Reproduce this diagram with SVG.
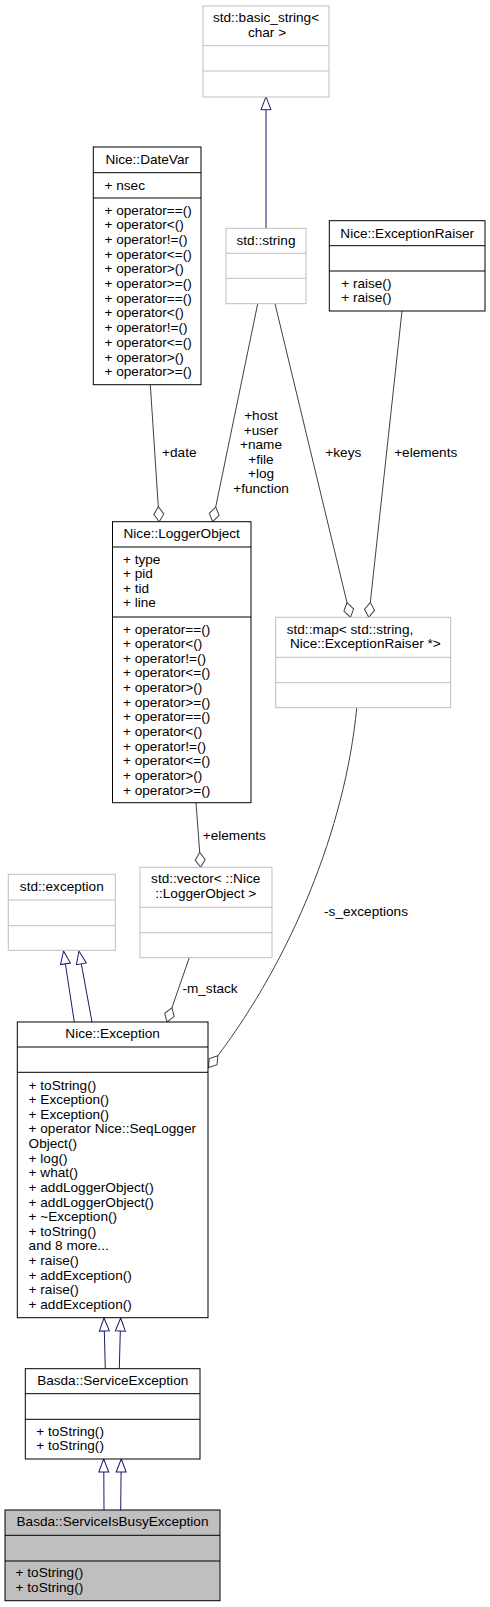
<svg xmlns="http://www.w3.org/2000/svg" xmlns:xlink="http://www.w3.org/1999/xlink" width="490" height="1607" viewBox="0 0 490 1607">
<style>
.t{font-family:"Liberation Sans",Arial,Helvetica,sans-serif;font-size:13.6px;fill:#000}
.m{text-anchor:middle}
.bx{fill:#fff;stroke:#000;stroke-width:1}
.gb{fill:#fff;stroke:#bfbfbf;stroke-width:1}
.sk{stroke:#000;stroke-width:1}
.gs{stroke:#bfbfbf;stroke-width:1}
.agg{fill:none;stroke:#404040;stroke-width:1}
.inh{fill:none;stroke:#191970;stroke-width:1}
</style>
<defs>
<polygon id="dia" points="0,0 -5,-7.5 0,-15 5,-7.5" fill="#fff" stroke="#404040" stroke-width="1"/>
<polygon id="tri" points="0,0 -5,13 5,13" fill="#fff" stroke="#191970" stroke-width="1"/>
</defs>
<rect width="490" height="1607" fill="#fff"/>

<g id="connectors">
<line class="inh" x1="266" y1="228.3" x2="266" y2="109.7"/>
<use xlink:href="#tri" transform="translate(266,96.7)"/>
<line class="agg" x1="150.3" y1="384.7" x2="158.3" y2="506.7"/>
<use xlink:href="#dia" transform="translate(159.3,521.7) rotate(-3.76)"/>
<line class="agg" x1="257.7" y1="303.7" x2="215.7" y2="507"/>
<use xlink:href="#dia" transform="translate(212.7,521.7) rotate(11.67)"/>
<line class="agg" x1="275" y1="303.7" x2="347" y2="602.7"/>
<use xlink:href="#dia" transform="translate(350.5,617.3) rotate(-13.45)"/>
<line class="agg" x1="402" y1="311" x2="370.3" y2="602.4"/>
<use xlink:href="#dia" transform="translate(368.7,617.3) rotate(6.2)"/>
<line class="agg" x1="196" y1="802.7" x2="199.7" y2="852.3"/>
<use xlink:href="#dia" transform="translate(200.7,867.3) rotate(-3.98)"/>
<line class="agg" x1="189.3" y1="957.7" x2="171.9" y2="1007.8"/>
<use xlink:href="#dia" transform="translate(167,1022) rotate(19.13)"/>
<path class="agg" d="M356.7,708 C345,830 290,960 217.8,1055.7"/>
<use xlink:href="#dia" transform="translate(208.5,1067.5) rotate(38.3)"/>
<line class="inh" x1="74.3" y1="1022" x2="65.4" y2="963.9"/>
<use xlink:href="#tri" transform="translate(63.5,951) rotate(-8.6)"/>
<line class="inh" x1="92" y1="1022" x2="81.3" y2="963.8"/>
<use xlink:href="#tri" transform="translate(79,951) rotate(-10.4)"/>
<line class="inh" x1="105.3" y1="1368.7" x2="104.3" y2="1331"/>
<use xlink:href="#tri" transform="translate(104,1318) rotate(-1.47)"/>
<line class="inh" x1="119.3" y1="1368.7" x2="120.3" y2="1331"/>
<use xlink:href="#tri" transform="translate(120.7,1318) rotate(1.58)"/>
<line class="inh" x1="104" y1="1510" x2="103.8" y2="1472"/>
<use xlink:href="#tri" transform="translate(103.7,1459) rotate(-0.34)"/>
<line class="inh" x1="120.7" y1="1510" x2="121.1" y2="1472"/>
<use xlink:href="#tri" transform="translate(121.3,1459) rotate(0.67)"/>
<text class="t m" x="261" y="420">+host</text>
<text class="t m" x="261" y="434.6">+user</text>
<text class="t m" x="261" y="449.2">+name</text>
<text class="t m" x="261" y="463.8">+file</text>
<text class="t m" x="261" y="478.4">+log</text>
<text class="t m" x="261" y="493">+function</text>
<text class="t m" x="179.3" y="457.2">+date</text>
<text class="t m" x="343.3" y="457.2">+keys</text>
<text class="t m" x="425.7" y="457.2">+elements</text>
<text class="t m" x="234.3" y="839.5">+elements</text>
<text class="t m" x="210" y="993.2">-m_stack</text>
<text class="t m" x="366" y="916.2">-s_exceptions</text>
</g>

<g id="basic_string">
<rect class="gb" x="203" y="6" width="126" height="91"/>
<line class="gs" x1="203" y1="45.7" x2="329" y2="45.7"/>
<line class="gs" x1="203" y1="71" x2="329" y2="71"/>
<text class="t m" x="266" y="22.2">std::basic_string&lt;</text>
<text class="t m" x="267" y="37.2">char &gt;</text>
</g>

<g id="DateVar">
<rect class="bx" x="93.3" y="147" width="107.7" height="237.7"/>
<line class="sk" x1="93.3" y1="172.7" x2="201" y2="172.7"/>
<line class="sk" x1="93.3" y1="198" x2="201" y2="198"/>
<text class="t m" x="147.2" y="163.7">Nice::DateVar</text>
<text class="t" x="104.5" y="189.5">+ nsec</text>
<text class="t" x="104.5" y="214.5">+ operator==()</text>
<text class="t" x="104.5" y="229.2">+ operator&lt;()</text>
<text class="t" x="104.5" y="243.9">+ operator!=()</text>
<text class="t" x="104.5" y="258.6">+ operator&lt;=()</text>
<text class="t" x="104.5" y="273.3">+ operator&gt;()</text>
<text class="t" x="104.5" y="288">+ operator&gt;=()</text>
<text class="t" x="104.5" y="302.7">+ operator==()</text>
<text class="t" x="104.5" y="317.4">+ operator&lt;()</text>
<text class="t" x="104.5" y="332.1">+ operator!=()</text>
<text class="t" x="104.5" y="346.8">+ operator&lt;=()</text>
<text class="t" x="104.5" y="361.5">+ operator&gt;()</text>
<text class="t" x="104.5" y="376.2">+ operator&gt;=()</text>
</g>

<g id="std_string">
<rect class="gb" x="226" y="228.3" width="80" height="75.4"/>
<line class="gs" x1="226" y1="253.3" x2="306" y2="253.3"/>
<line class="gs" x1="226" y1="278.3" x2="306" y2="278.3"/>
<text class="t m" x="266" y="244.7">std::string</text>
</g>

<g id="ExceptionRaiser">
<rect class="bx" x="329.3" y="220.7" width="155.7" height="90.3"/>
<line class="sk" x1="329.3" y1="245.7" x2="485" y2="245.7"/>
<line class="sk" x1="329.3" y1="271" x2="485" y2="271"/>
<text class="t m" x="407.2" y="237.8">Nice::ExceptionRaiser</text>
<text class="t" x="341.2" y="287.8">+ raise()</text>
<text class="t" x="341.2" y="302.2">+ raise()</text>
</g>

<g id="LoggerObject">
<rect class="bx" x="112.5" y="521.7" width="138.5" height="281"/>
<line class="sk" x1="112.5" y1="547" x2="251" y2="547"/>
<line class="sk" x1="112.5" y1="617" x2="251" y2="617"/>
<text class="t m" x="181.7" y="538.2">Nice::LoggerObject</text>
<text class="t" x="123" y="563.5">+ type</text>
<text class="t" x="123" y="578.2">+ pid</text>
<text class="t" x="123" y="592.8">+ tid</text>
<text class="t" x="123" y="607.2">+ line</text>
<text class="t" x="123" y="633.5">+ operator==()</text>
<text class="t" x="123" y="648.1">+ operator&lt;()</text>
<text class="t" x="123" y="662.8">+ operator!=()</text>
<text class="t" x="123" y="677.4">+ operator&lt;=()</text>
<text class="t" x="123" y="692.1">+ operator&gt;()</text>
<text class="t" x="123" y="706.7">+ operator&gt;=()</text>
<text class="t" x="123" y="721.3">+ operator==()</text>
<text class="t" x="123" y="736">+ operator&lt;()</text>
<text class="t" x="123" y="750.6">+ operator!=()</text>
<text class="t" x="123" y="765.3">+ operator&lt;=()</text>
<text class="t" x="123" y="779.9">+ operator&gt;()</text>
<text class="t" x="123" y="794.5">+ operator&gt;=()</text>
</g>

<g id="std_map">
<rect class="gb" x="275.7" y="617.3" width="175" height="90.4"/>
<line class="gs" x1="275.7" y1="657.3" x2="450.7" y2="657.3"/>
<line class="gs" x1="275.7" y1="682.7" x2="450.7" y2="682.7"/>
<text class="t m" x="350" y="633.5">std::map&lt; std::string,</text>
<text class="t m" x="365.4" y="648.2">Nice::ExceptionRaiser *&gt;</text>
</g>

<g id="std_exception">
<rect class="gb" x="8.3" y="874.3" width="107" height="76"/>
<line class="gs" x1="8.3" y1="900" x2="115.3" y2="900"/>
<line class="gs" x1="8.3" y1="925.7" x2="115.3" y2="925.7"/>
<text class="t m" x="61.8" y="891.2">std::exception</text>
</g>

<g id="std_vector">
<rect class="gb" x="140" y="867.3" width="132" height="90.4"/>
<line class="gs" x1="140" y1="907.3" x2="272" y2="907.3"/>
<line class="gs" x1="140" y1="932.7" x2="272" y2="932.7"/>
<text class="t m" x="205.7" y="883.2">std::vector&lt; ::Nice</text>
<text class="t m" x="205.7" y="897.8">::LoggerObject &gt;</text>
</g>

<g id="Nice_Exception">
<rect class="bx" x="17.3" y="1022" width="190.7" height="295.7"/>
<line class="sk" x1="17.3" y1="1047" x2="208" y2="1047"/>
<line class="sk" x1="17.3" y1="1072.3" x2="208" y2="1072.3"/>
<text class="t m" x="112.6" y="1038">Nice::Exception</text>
<text class="t" x="28.6" y="1089.5">+ toString()</text>
<text class="t" x="28.6" y="1104.1">+ Exception()</text>
<text class="t" x="28.6" y="1118.7">+ Exception()</text>
<text class="t" x="28.6" y="1133.4">+ operator Nice::SeqLogger</text>
<text class="t" x="28.6" y="1148">Object()</text>
<text class="t" x="28.6" y="1162.6">+ log()</text>
<text class="t" x="28.6" y="1177.2">+ what()</text>
<text class="t" x="28.6" y="1191.8">+ addLoggerObject()</text>
<text class="t" x="28.6" y="1206.5">+ addLoggerObject()</text>
<text class="t" x="28.6" y="1221.1">+ ~Exception()</text>
<text class="t" x="28.6" y="1235.7">+ toString()</text>
<text class="t" x="28.6" y="1250.3">and 8 more...</text>
<text class="t" x="28.6" y="1265">+ raise()</text>
<text class="t" x="28.6" y="1279.6">+ addException()</text>
<text class="t" x="28.6" y="1294.2">+ raise()</text>
<text class="t" x="28.6" y="1308.8">+ addException()</text>
</g>

<g id="ServiceException">
<rect class="bx" x="25.3" y="1368.7" width="174.7" height="90.3"/>
<line class="sk" x1="25.3" y1="1393.7" x2="200" y2="1393.7"/>
<line class="sk" x1="25.3" y1="1419.3" x2="200" y2="1419.3"/>
<text class="t m" x="112.7" y="1385.2">Basda::ServiceException</text>
<text class="t" x="36.3" y="1435.5">+ toString()</text>
<text class="t" x="36.3" y="1450.2">+ toString()</text>
</g>

<g id="ServiceIsBusyException">
<rect x="5" y="1510" width="215" height="90.7" fill="#bfbfbf" stroke="#000" stroke-width="1"/>
<line class="sk" x1="5" y1="1535.3" x2="220" y2="1535.3"/>
<line class="sk" x1="5" y1="1561" x2="220" y2="1561"/>
<text class="t m" x="112.5" y="1525.8">Basda::ServiceIsBusyException</text>
<text class="t" x="15.6" y="1577.2">+ toString()</text>
<text class="t" x="15.6" y="1591.8">+ toString()</text>
</g>
</svg>
